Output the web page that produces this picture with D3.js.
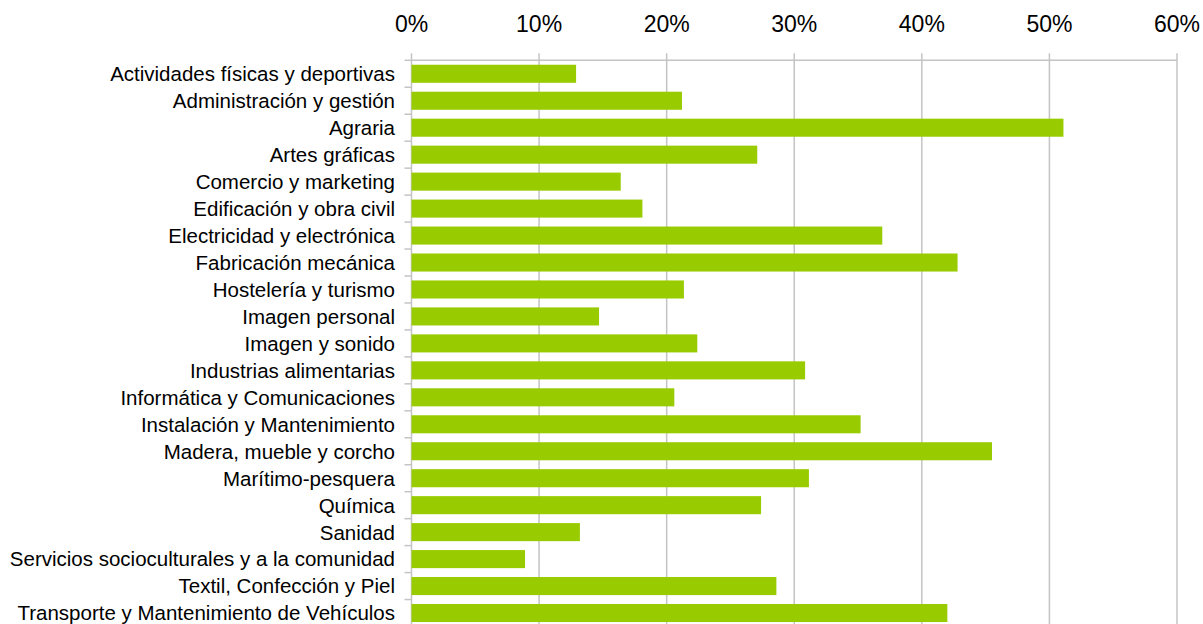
<!DOCTYPE html>
<html>
<head>
<meta charset="utf-8">
<script src="https://cdn.jsdelivr.net/npm/d3@7"></script>
<style>
html,body{margin:0;padding:0;background:#fff;}
svg{display:block;font-family:"Liberation Sans",Arial,sans-serif;}
</style>
</head>
<body>
<svg id="chart" width="1203" height="624"></svg>
<script>
const categories = [
  "Actividades físicas y deportivas",
  "Administración y gestión",
  "Agraria",
  "Artes gráficas",
  "Comercio y marketing",
  "Edificación y obra civil",
  "Electricidad y electrónica",
  "Fabricación mecánica",
  "Hostelería y turismo",
  "Imagen personal",
  "Imagen y sonido",
  "Industrias alimentarias",
  "Informática y Comunicaciones",
  "Instalación y Mantenimiento",
  "Madera, mueble y corcho",
  "Marítimo-pesquera",
  "Química",
  "Sanidad",
  "Servicios socioculturales y a la comunidad",
  "Textil, Confección y Piel",
  "Transporte y Mantenimiento de Vehículos"
];
const values = [12.9, 21.2, 51.1, 27.1, 16.4, 18.1, 36.9, 42.8, 21.35, 14.7, 22.4, 30.85, 20.6, 35.2, 45.5, 31.15, 27.4, 13.2, 8.9, 28.6, 42.0];
const tickValues = [0, 10, 20, 30, 40, 50, 60];
const tickLabels = ["0%", "10%", "20%", "30%", "40%", "50%", "60%"];

(function () {
const svg = d3.select("#chart");
const mLeft = 411.5, mRight = 1177, mTop = 60.3, mBottom = 626.5;

const x = d3.scaleLinear().domain([0, 60]).range([mLeft, mRight]);
const y = d3.scaleBand().domain(categories).range([mTop, mBottom]).paddingInner(0.33).paddingOuter(0.165);

const grid = "#c4c4c4";

svg.append("g").selectAll("line").data(tickValues).join("line")
  .attr("x1", d => x(d)).attr("x2", d => x(d))
  .attr("y1", mTop - 7).attr("y2", mBottom)
  .attr("stroke", grid).attr("stroke-width", 1.5);

svg.append("line").attr("x1", x(0)).attr("x2", x(60)).attr("y1", mTop).attr("y2", mTop)
  .attr("stroke", grid).attr("stroke-width", 1.5);

const step = (mBottom - mTop) / categories.length;
svg.append("g").selectAll("line").data(d3.range(categories.length + 1)).join("line")
  .attr("x1", mLeft - 7).attr("x2", mLeft)
  .attr("y1", i => mTop + i * step).attr("y2", i => mTop + i * step)
  .attr("stroke", grid).attr("stroke-width", 1.5);

svg.append("g").selectAll("rect").data(values).join("rect")
  .attr("x", x(0))
  .attr("y", (d, i) => y(categories[i]))
  .attr("width", d => x(d) - x(0))
  .attr("height", y.bandwidth())
  .attr("fill", "#99cc00");

svg.append("g").selectAll("text").data(tickValues).join("text")
  .attr("x", d => x(d)).attr("y", 32)
  .attr("text-anchor", "middle")
  .attr("font-size", 23)
  .attr("fill", "#000")
  .text((d, i) => tickLabels[i]);

svg.append("g").selectAll("text").data(categories).join("text")
  .attr("x", 395)
  .attr("y", d => y(d) + y.bandwidth() / 2)
  .attr("dy", "0.36em")
  .attr("text-anchor", "end")
  .attr("font-size", 20.5)
  .attr("fill", "#000")
  .text(d => d);
})();
</script>
</body>
</html>
